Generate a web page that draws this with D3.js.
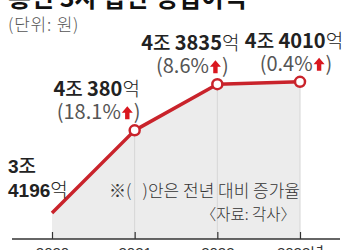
<!DOCTYPE html>
<html>
<head>
<meta charset="utf-8">
<script src="https://cdn.jsdelivr.net/npm/d3@7"></script>
<style>
  html, body { margin: 0; padding: 0; background: #fff; }
  svg { display: block; }
</style>
</head>
<body>
<div id="chart"></div>
<script>
// 통신 3사 합산 영업이익 (단위: 억 원)
const years = ['2020', '2021', '2022', '2023년'];
const profit = [34196, 40380, 43835, 44010];
const growth = [null, 18.1, 8.6, 0.4];
const labelDx = [0, -38, -27, -6];

const RED = '#c9232b';
const ARROW = '#d9171f';
const KO = '"Noto Sans CJK KR", sans-serif';
const NARROW = '"Liberation Sans Narrow", "Noto Sans CJK KR", sans-serif';
const WIDE = '"Liberation Sans", "Noto Sans CJK KR", sans-serif';

const w = 350;
const h = 250;
const axisY = 239;

const svg = d3.select('#chart').append('svg').attr('width', w).attr('height', h);

const x = d3.scalePoint().domain(years).range([52, 300]);
const y = d3.scaleLinear().domain([32250, 44000]).range([axisY, 82]);

const data = years.map((yr, i) => ({ yr, v: profit[i], g: growth[i], dx: labelDx[i] }));

// title (cropped at top) and unit
svg.append('text')
  .attr('x', 8).attr('y', 7)
  .attr('font-family', KO).attr('font-size', 25).attr('font-weight', 700)
  .attr('fill', '#111')
  .text('통신 3사 합산 영업이익');
svg.append('text')
  .attr('x', 8).attr('y', 31)
  .attr('font-family', KO).attr('font-size', 17).attr('font-weight', 300)
  .attr('letter-spacing', 0.8)
  .attr('fill', '#555')
  .text('(단위: 원)');

// shaded area under the line
const area = d3.area()
  .x((d) => x(d.yr))
  .y0(axisY)
  .y1((d) => y(d.v));
svg.append('path').datum(data).attr('d', area).attr('fill', '#ececec');

// vertical guides
svg.selectAll('.guide')
  .data(data.slice(1))
  .join('line')
  .attr('class', 'guide')
  .attr('x1', (d) => x(d.yr)).attr('x2', (d) => x(d.yr))
  .attr('y1', (d) => y(d.v)).attr('y2', axisY)
  .attr('stroke', '#d6d6d6').attr('stroke-width', 1);

// notes
svg.append('text')
  .attr('x', 300).attr('y', 197).attr('text-anchor', 'end')
  .attr('font-family', KO).attr('font-size', 17).attr('font-weight', 300).attr('fill', '#333')
  .text('※(\u00a0\u00a0\u00a0)안은 전년 대비 증가율');
svg.append('text')
  .attr('x', 296).attr('y', 220).attr('text-anchor', 'end')
  .attr('font-family', KO).attr('font-size', 15.5).attr('font-weight', 300).attr('fill', '#333')
  .text('〈자료: 각사〉');

// x axis
svg.append('line')
  .attr('x1', 12).attr('x2', 340).attr('y1', axisY).attr('y2', axisY)
  .attr('stroke', '#333').attr('stroke-width', 1.5);
const xAxis = d3.axisBottom(x).tickSize(-7).tickPadding(8);
const ax = svg.append('g')
  .attr('transform', `translate(0,${axisY})`)
  .call(xAxis)
  .call((g) => g.select('.domain').remove());
ax.selectAll('.tick line').attr('stroke', '#333').attr('stroke-width', 1.2);
ax.selectAll('.tick text')
  .attr('fill', '#333')
  .attr('font-size', 15)
  .attr('font-family', WIDE);

// line
const line = d3.line().x((d) => x(d.yr)).y((d) => y(d.v));
svg.append('path').datum(data)
  .attr('d', line)
  .attr('fill', 'none')
  .attr('stroke', RED)
  .attr('stroke-width', 3.5)
  .attr('stroke-linejoin', 'round');

svg.selectAll('.dot')
  .data(data.slice(1))
  .join('circle')
  .attr('class', 'dot')
  .attr('cx', (d) => x(d.yr)).attr('cy', (d) => y(d.v))
  .attr('r', 5)
  .attr('fill', '#fff')
  .attr('stroke', RED)
  .attr('stroke-width', 2.5);

// first point label (two lines, left)
const jo = (v) => Math.floor(v / 10000);
const eok = (v) => v % 10000;
const first = data[0];
const fl = svg.append('text')
  .attr('font-family', WIDE).attr('font-size', 19).attr('fill', '#222');
fl.append('tspan').attr('x', 8).attr('y', 173).attr('font-weight', 700).text(jo(first.v));
fl.append('tspan').attr('font-family', KO).attr('font-size', 19).attr('font-weight', 500).text('조');
fl.append('tspan').attr('x', 8).attr('y', 197).attr('font-weight', 700).text(eok(first.v));
fl.append('tspan').attr('font-family', KO).attr('font-size', 19).attr('font-weight', 300).text('억');

// other point labels
data.slice(1).forEach((d) => {
  const cx = x(d.yr) + d.dx;
  const cy = y(d.v);

  const t = svg.append('text')
    .attr('x', cx).attr('y', cy - 34)
    .attr('text-anchor', 'middle')
    .attr('font-family', NARROW).attr('font-size', 20).attr('fill', '#222');
  t.append('tspan').attr('font-weight', 700).text(jo(d.v));
  t.append('tspan').attr('font-family', KO).attr('font-size', 19).attr('font-weight', 500).text('조 ');
  t.append('tspan').attr('font-weight', 700).text(eok(d.v));
  t.append('tspan').attr('font-family', KO).attr('font-size', 19).attr('font-weight', 300).text('억');

  // growth: "(x.x%" + arrow + ")"
  const g = svg.append('g');
  const left = g.append('text')
    .attr('x', 0).attr('y', 0)
    .attr('font-family', NARROW).attr('font-size', 20).attr('fill', '#555')
    .text(`(${d.g}%`);
  const lw = left.node().getComputedTextLength();
  const aw = 11;
  const ax0 = lw + 1;
  g.append('path')
    .attr('d', `M${ax0},-6.5 L${ax0 + aw / 2},-13 L${ax0 + aw},-6.5 L${ax0 + aw / 2 + 2.2},-6.5 L${ax0 + aw / 2 + 2.2},0 L${ax0 + aw / 2 - 2.2},0 L${ax0 + aw / 2 - 2.2},-6.5 Z`)
    .attr('fill', ARROW);
  const right = g.append('text')
    .attr('x', lw + aw + 2).attr('y', 0)
    .attr('font-family', NARROW).attr('font-size', 20).attr('fill', '#555')
    .text(')');
  const total = lw + aw + 2 + right.node().getComputedTextLength();
  g.attr('transform', `translate(${cx - total / 2 + 2},${cy - 11})`);
});
</script>
</body>
</html>
